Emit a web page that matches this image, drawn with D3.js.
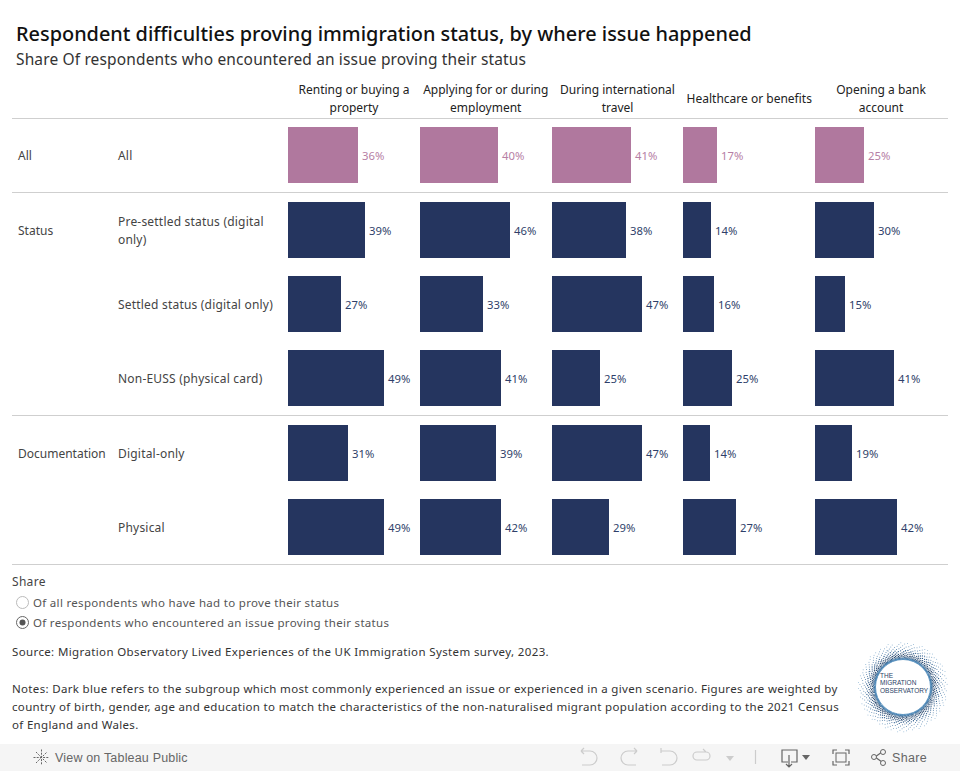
<!DOCTYPE html>
<html><head><meta charset="utf-8">
<script src="https://cdn.jsdelivr.net/npm/d3@7/dist/d3.min.js"></script>
<style>html,body{margin:0;padding:0;background:#fff;overflow:hidden}svg{display:block}text{font-family:"Noto Sans",sans-serif}</style>
</head><body><svg id="c" width="960" height="771"></svg>
<script>
const columns = [["Renting or buying a","property"],["Applying for or during","employment"],["During international","travel"],["Healthcare or benefits"],["Opening a bank","account"]];
const rows = ["All","Pre-settled","Settled","Non-EUSS","Digital-only","Physical"];
const rowLabels = [["All"],["Pre-settled status (digital","only)"],["Settled status (digital only)"],["Non-EUSS (physical card)"],["Digital-only"],["Physical"]];
const groups = ["All","Status","","","Documentation",""];
const renting = [36.0,39.4,27.2,49.4,30.8,49.4];
const employment = [40.1,46.3,32.6,41.45,39.1,41.6];
const travel = [40.6,38.0,46.5,24.7,46.5,29.3];
const healthcare = [17.4,14.4,15.9,25.2,13.9,27.2];
const bank = [25.2,30.3,15.4,40.6,19.0,42.2];
const series = [renting,employment,travel,healthcare,bank];
const notes = ["Notes: Dark blue refers to the subgroup which most commonly experienced an issue or experienced in a given scenario. Figures are weighted by","country of birth, gender, age and education to match the characteristics of the non-naturalised migrant population according to the 2021 Census","of England and Wales."];

const svg = d3.select("#c");
const T = (x,y,s,size,fill,o={}) => svg.append("text").attr("x",x).attr("y",y).attr("font-size",size).attr("fill",fill).attr("text-anchor",o.a||"start").attr("font-weight",o.w||400).attr("letter-spacing",o.ls||0).text(s);

T(16,41,"Respondent difficulties proving immigration status, by where issue happened",19.9,"#111",{w:500});
T(16,65,"Share Of respondents who encountered an issue proving their status",15.5,"#333",{ls:.14});

const colX = d3.scaleBand().domain(d3.range(5)).range([288,946.75]);
const rowY = d3.scaleBand().domain(d3.range(6)).range([118,564]).paddingInner(0.247).paddingOuter(0.1235);
const w = d3.scaleLinear().domain([0,49.4]).range([0,96.08]);

columns.forEach((c,i)=>c.forEach((l,k)=>{
  const cx = colX(i)+66;
  T(cx, (c.length==1?103:94)+k*18, l, 12,"#222",{a:"middle"});
}));
[118,192,415,564].forEach(y=>svg.append("line").attr("x1",12).attr("x2",948).attr("y1",y+.5).attr("y2",y+.5).attr("stroke","#cfcfcf"));

rows.forEach((r,j)=>{
  const y0 = Math.round(rowY(j));
  const mid = y0+28;
  if(groups[j]) T(18,mid+5,groups[j],12,"#444");
  rowLabels[j].forEach((l,k)=>T(118,mid+5+(rowLabels[j].length>1?(k-.5)*18:0),l,12,"#444",{ls:.2}));
  series.forEach((s,i)=>{
    const col = j==0?"#b0789e":"#25355f";
    const x0 = Math.round(colX(i)), bw = Math.round(w(s[j]));
    svg.append("rect").attr("x",x0).attr("y",y0).attr("width",bw).attr("height",56).attr("fill",col);
    T(x0+bw+4,mid+4.5,Math.round(s[j])+"%",11.3,j==0?"#b680a5":"#2f3f6a");
  });
});

T(12,586,"Share",12,"#444",{ls:.3});
[["Of all respondents who have had to prove their status",603,false],["Of respondents who encountered an issue proving their status",623,true]].forEach(([l,y,on])=>{
  svg.append("circle").attr("cx",22.5).attr("cy",y-.5).attr("r",6).attr("fill","#fff").attr("stroke",on?"#666":"#bbb");
  if(on) svg.append("circle").attr("cx",22.5).attr("cy",y-.5).attr("r",3).attr("fill","#555");
  T(33,y+4,l,11.5,"#555",{ls:.31});
});
T(12,656,"Source: Migration Observatory Lived Experiences of the UK Immigration System survey, 2023.",11.5,"#333",{ls:.37});
notes.forEach((n,i)=>T(12,692.5+i*18,n,11.5,"#333",{ls:.33}));

// logo: stippled ring (low-discrepancy placement)
const lg = svg.append("g").attr("transform","translate(903,687)");
lg.append("circle").attr("r",27.5).attr("fill","none").attr("stroke","#4a86b8").attr("stroke-width",.8);
const ringShade = d3.scaleLinear().domain([0,3,8,18]).range(["#4f8cbc","#1d3a60","#2f5f90","#a8cbe4"]);
for(let i=1;i<=1100;i++){
  const f=(i*0.7548776662)%1, g=(i*0.5698402910)%1;
  const t=Math.pow(f,2.4)*17;
  const a=g*2*Math.PI;
  lg.append("circle").attr("cx",(28+t)*Math.cos(a)).attr("cy",(28+t)*Math.sin(a)).attr("r",t>9?.5:.65).attr("fill",ringShade(t));
}
["THE","MIGRATION","OBSERVATORY"].forEach((s,i)=>lg.append("text").attr("x",-23).attr("y",-9.5+i*7.6).attr("font-size",6.5).attr("fill","#2b3f66").style("font-family","Liberation Sans").text(s));

// toolbar
svg.append("rect").attr("x",0).attr("y",744).attr("width",960).attr("height",27).attr("fill","#f5f5f5");
const tf = "Liberation Sans";
const star = svg.append("g").attr("transform","translate(41.5,757.5)").attr("stroke","#666").attr("stroke-width",1).attr("stroke-dasharray","2 1.2");
[[-8,0,8,0],[0,-8,0,8],[-5.5,-5.5,5.5,5.5],[-5.5,5.5,5.5,-5.5]].forEach(a=>star.append("line").attr("x1",a[0]).attr("y1",a[1]).attr("x2",a[2]).attr("y2",a[3]));
T(55,762,"View on Tableau Public",12.5,"#666",{ls:.18}).style("font-family",tf);
T(892,762,"Share",12.5,"#666",{ls:.35}).style("font-family",tf);
const ic = (d,c,sw=1.2)=>svg.append("path").attr("d",d).attr("fill","none").attr("stroke",c).attr("stroke-width",sw);
ic("M581,751h9a6,6 0 0 1 0,14h-8M581,751l3,-3M581,751l3,3","#ccc");
ic("M637,751h-9a6,6 0 0 0 0,14h8M637,751l-3,-3M637,751l-3,3","#ccc");
ic("M661,748v5M661,751h9a6,6 0 0 1 0,14h-8","#ccc");
ic("M706,752h-9a4,4 0 0 0 0,8h9a4,4 0 0 0 0,-8M706,752l-3,-3","#ccc");
svg.append("path").attr("d","M726,756h8l-4,5z").attr("fill","#ccc");
ic("M755.5,750v14","#ccc");
ic("M788,762h-6v-12h15v12h-6M789,755v11M786,764l3,3l3,-3","#666");
svg.append("path").attr("d","M802,755h8l-4,5z").attr("fill","#666");
ic("M833,754v-4h4M845,750h4v4M849,761v4h-4M837,765h-4v-4","#666");
svg.append("rect").attr("x",836).attr("y",753).attr("width",10).attr("height",9).attr("fill","none").attr("stroke","#666");
ic("M875,757l7,-5M875,757l7,5","#666");
[[874,757],[883,752],[883,763]].forEach(p=>svg.append("circle").attr("cx",p[0]).attr("cy",p[1]).attr("r",2.5).attr("fill","#f5f5f5").attr("stroke","#666"));
</script></body></html>
